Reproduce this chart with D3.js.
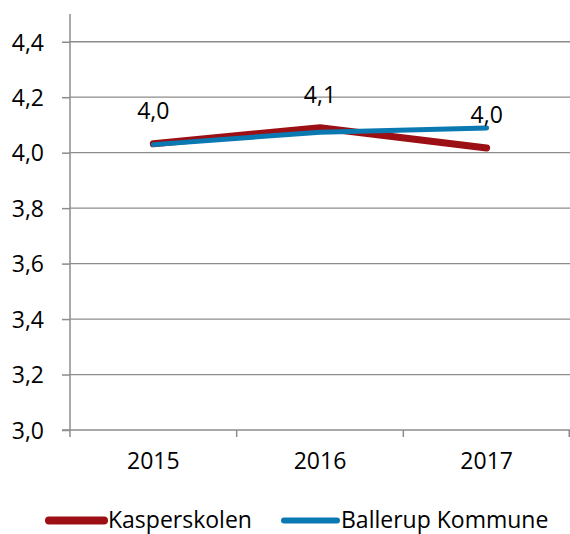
<!DOCTYPE html>
<html>
<head>
<meta charset="utf-8">
<script src="https://cdn.jsdelivr.net/npm/d3@7"></script>
<style>
  html, body { margin: 0; padding: 0; background: #fff; }
  svg { display: block; font-family: "Open Sans", Lato, sans-serif; }
</style>
</head>
<body>
<svg id="chart" width="570" height="534"></svg>
<script>
const categories = ["2015", "2016", "2017"];
const seriesNames = ["Kasperskolen", "Ballerup Kommune"];
const kasperskolen = [4.032, 4.09, 4.017];
const ballerup = [4.029, 4.074, 4.089];
const dataLabels = ["4,0", "4,1", "4,0"];
const yTicks = [3.0, 3.2, 3.4, 3.6, 3.8, 4.0, 4.2, 4.4];
const colors = ["#9C0F14", "#0A79B1"];

const FONT = "'Open Sans', Lato, sans-serif";
const FS = 23;
const svg = d3.select("#chart");
const pLeft = 70, pRight = 570, pTop = 14, pBottom = 430;
const fmt = v => d3.format(".1f")(v).replace(".", ",");

const x = d3.scaleBand().domain(categories).range([pLeft, pRight]).padding(0);
const y = d3.scaleLinear().domain([3.0, 4.5]).range([pBottom, pTop]);

// gridlines
svg.append("g").selectAll("line").data(yTicks.filter(d => d > 3.0)).join("line")
  .attr("x1", pLeft).attr("x2", pRight)
  .attr("y1", d => y(d)).attr("y2", d => y(d))
  .attr("stroke", "#8c8c8c").attr("stroke-width", 1.3);

// y axis
const yAxis = svg.append("g").attr("transform", `translate(${pLeft},0)`)
  .call(d3.axisLeft(y).tickValues(yTicks).tickFormat(fmt).tickSize(8).tickPadding(18));
yAxis.select(".domain").attr("stroke", "#8c8c8c").attr("stroke-width", 1.5)
  .attr("d", `M0,${pTop}V${pBottom}`);
yAxis.selectAll(".tick line").attr("stroke", "#8c8c8c").attr("stroke-width", 1.5);
yAxis.selectAll(".tick text").attr("font-size", FS).attr("fill", "#000")
  .attr("font-family", FONT).attr("dy", "0.36em");

// x axis
const xAxis = svg.append("g").attr("transform", `translate(0,${pBottom})`)
  .call(d3.axisBottom(x).tickSize(0).tickPadding(23));
xAxis.select(".domain").remove();
xAxis.selectAll(".tick text").attr("font-size", FS).attr("fill", "#000")
  .attr("font-family", FONT);
const bounds = [pLeft, ...categories.map(c => x(c) + x.bandwidth())];
svg.append("line").attr("x1", pLeft - 8).attr("x2", pRight).attr("y1", pBottom).attr("y2", pBottom)
  .attr("stroke", "#8c8c8c").attr("stroke-width", 1.5);
svg.append("g").selectAll("line").data(bounds).join("line")
  .attr("x1", d => Math.min(d, pRight - 0.75)).attr("x2", d => Math.min(d, pRight - 0.75))
  .attr("y1", pBottom).attr("y2", pBottom + 7)
  .attr("stroke", "#8c8c8c").attr("stroke-width", 1.5);

const cx = c => x(c) + x.bandwidth() / 2;
const line = d3.line().x((d, i) => cx(categories[i])).y(d => y(d));

svg.append("path").datum(kasperskolen).attr("d", line)
  .attr("fill", "none").attr("stroke", colors[0]).attr("stroke-width", 7)
  .attr("stroke-linecap", "round").attr("stroke-linejoin", "round");
svg.append("path").datum(ballerup).attr("d", line)
  .attr("fill", "none").attr("stroke", colors[1]).attr("stroke-width", 5)
  .attr("stroke-linecap", "round").attr("stroke-linejoin", "round");

// data labels
svg.append("g").selectAll("text").data(kasperskolen).join("text")
  .attr("x", (d, i) => cx(categories[i]))
  .attr("y", d => y(d) - 25)
  .attr("text-anchor", "middle").attr("font-size", FS).attr("fill", "#000")
  .attr("font-family", FONT)
  .text((d, i) => dataLabels[i]);

// legend
const legend = [
  { name: seriesNames[0], color: colors[0], w: 8, x1: 49, x2: 104, tx: 108 },
  { name: seriesNames[1], color: colors[1], w: 6, x1: 284, x2: 337, tx: 341 }
];
const lg = svg.append("g");
legend.forEach(l => {
  lg.append("line").attr("x1", l.x1).attr("x2", l.x2).attr("y1", 520.5).attr("y2", 520.5)
    .attr("stroke", l.color).attr("stroke-width", l.w).attr("stroke-linecap", "round");
  lg.append("text").attr("x", l.tx).attr("y", 527.5).attr("font-size", FS).attr("fill", "#000")
    .attr("font-family", FONT)
    .text(l.name);
});
</script>
</body>
</html>
